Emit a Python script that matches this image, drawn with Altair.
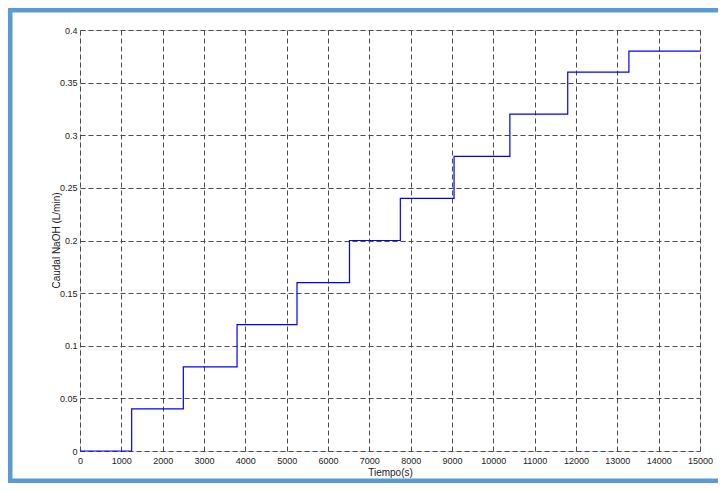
import altair as alt
import pandas as pd

# step data
t = [0, 1250, 2500, 3800, 5250, 6520, 7750, 9050, 10400, 11800, 13280, 15000]
q = [0.0, 0.04, 0.08, 0.12, 0.16, 0.20, 0.24, 0.28, 0.32, 0.36, 0.38, 0.38]
x_ticks = list(range(0, 15001, 1000))
y_ticks = [0, 0.05, 0.1, 0.15, 0.2, 0.25, 0.3, 0.35, 0.4]

df = pd.DataFrame({"t": t, "q": q})
FONT = "Liberation Sans Narrow, Arial Narrow, Liberation Sans, Arial"
TFONT = "Liberation Sans, Arial"
GRID = "#4a4a4a"

line = alt.Chart(df).mark_line(
    interpolate="step-after", color="#0000ff", strokeWidth=1.2
).encode(
    x=alt.X("t:Q",
            scale=alt.Scale(domain=[0, 15000], nice=False, zero=False),
            axis=alt.Axis(values=x_ticks, format="d", title="Tiempo(s)",
                          grid=True, gridDash=[5, 3], gridColor=GRID,
                          gridWidth=1, domain=False, ticks=False,
                          labelPadding=5, titlePadding=2,
                          labelFont=FONT, labelFontSize=9, labelColor="#222",
                          titleFont=FONT, titleFontSize=10, titleFontWeight="normal",
                          titleColor="#222", labelFlush=False)),
    y=alt.Y("q:Q",
            scale=alt.Scale(domain=[0, 0.4], nice=False, zero=False),
            axis=alt.Axis(values=y_ticks, format=".2~f", title="Caudal NaOH (L/min)",
                          grid=True, gridDash=[5, 3], gridColor=GRID,
                          gridWidth=1, domain=False, ticks=False,
                          labelPadding=3, titleX=-19, titleY=210,
                          labelFont=FONT, labelFontSize=9, labelColor="#222",
                          titleFont=TFONT, titleFontSize=10, titleFontWeight="normal",
                          titleColor="#222", labelFlush=False)),
)

one = pd.DataFrame({"k": [0]})
BLUE = "#5b9bd5"
left_edge = alt.Chart(one).mark_rule(color=BLUE, strokeWidth=5, strokeCap="square").encode(
    x=alt.value(-70), y=alt.value(-20), y2=alt.value(451))
top_edge = alt.Chart(one).mark_rule(color=BLUE, strokeWidth=5, strokeCap="square").encode(
    x=alt.value(-70), x2=alt.value(640), y=alt.value(-20))
bottom_edge = alt.Chart(one).mark_rule(color=BLUE, strokeWidth=5, strokeCap="square").encode(
    x=alt.value(-70), x2=alt.value(640), y=alt.value(451))

chart = alt.layer(line, left_edge, top_edge, bottom_edge).properties(
    width=620, height=421,
    autosize=alt.AutoSizeParams(type="none"),
    padding={"left": 72, "top": 22, "right": 18, "bottom": 32},
).configure_view(
    stroke="#262626", strokeWidth=1
).configure(background="white")

chart.save("out.html", embed_options={"renderer": "svg", "actions": False})
